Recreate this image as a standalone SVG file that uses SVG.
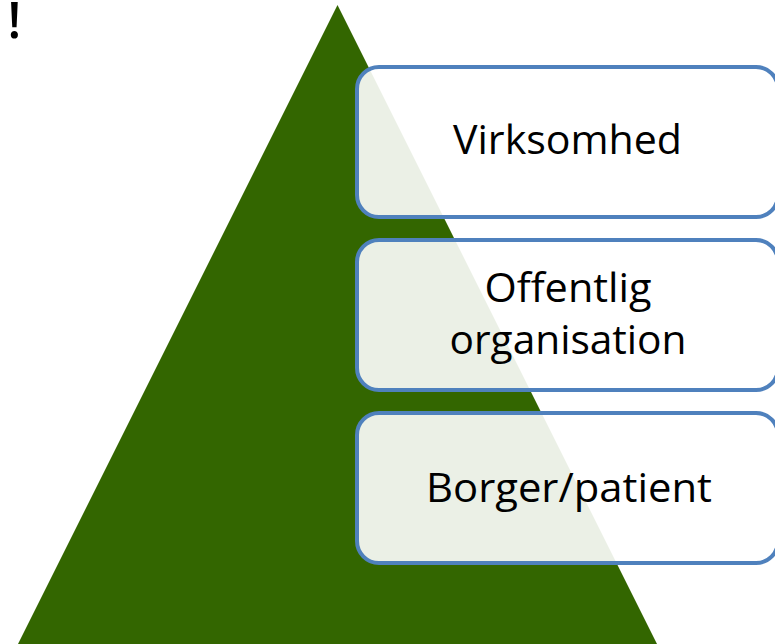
<svg xmlns="http://www.w3.org/2000/svg" width="775" height="644" viewBox="0 0 775 644">
<style>
.box{fill:#ffffff;fill-opacity:0.9;stroke:#4F81BD;stroke-width:4}
.lbl{font-family:"Open Sans","Noto Sans","Liberation Sans",sans-serif;font-size:40px;fill:#000000;text-anchor:middle;font-variant-ligatures:none}
</style>
<rect width="775" height="644" fill="#ffffff"/>
<text x="14.5" y="38" font-family="'Open Sans','Liberation Sans',sans-serif" font-size="50" font-weight="600" text-anchor="middle" fill="#000000">!</text>
<polygon id="pyramid" points="337.5,5 657,644 18,644" fill="#336600"/>
<g id="connectors"></g>
<g id="virksomhed">
<rect class="box" x="357" y="67" width="421" height="150" rx="22" ry="22"/>
<text class="lbl" x="567.5" y="154" textLength="229" lengthAdjust="spacingAndGlyphs">Virksomhed</text>
</g>
<g id="offentlig">
<rect class="box" x="357" y="240" width="421" height="150" rx="22" ry="22"/>
<text class="lbl" x="568" y="302" textLength="167" lengthAdjust="spacingAndGlyphs">Offentlig</text>
<text class="lbl" x="568" y="354" textLength="237" lengthAdjust="spacingAndGlyphs">organisation</text>
</g>
<g id="borger">
<rect class="box" x="357" y="413" width="421" height="150" rx="22" ry="22"/>
<text class="lbl" x="569" y="502" textLength="286" lengthAdjust="spacingAndGlyphs">Borger/patient</text>
</g>
</svg>
